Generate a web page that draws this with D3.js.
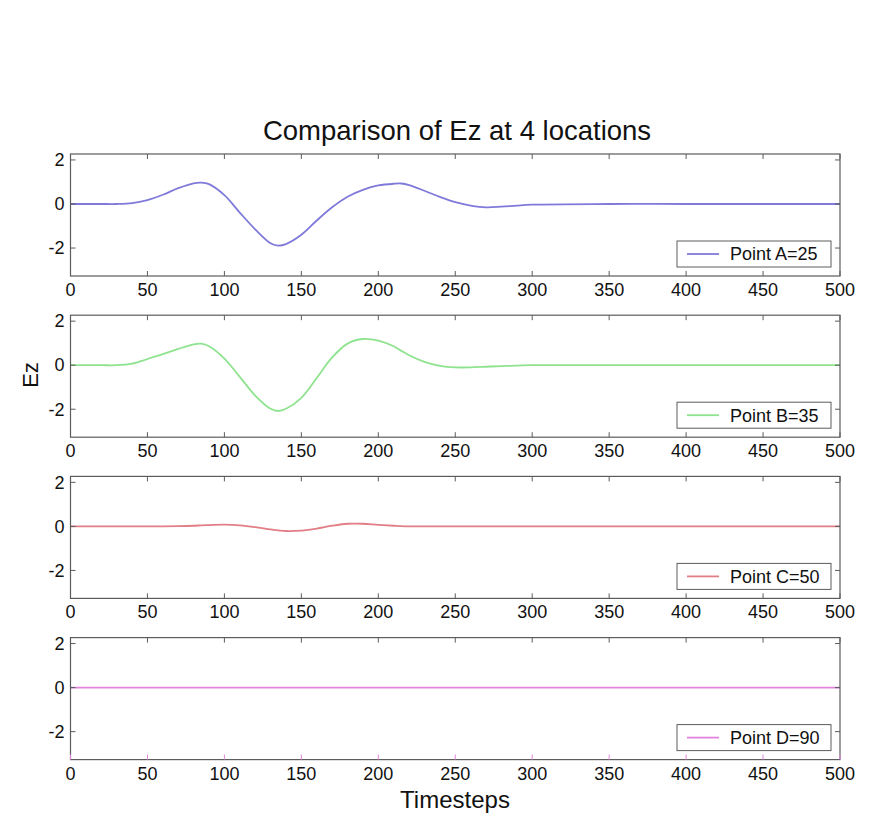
<!DOCTYPE html>
<html>
<head>
<meta charset="utf-8">
<script src="https://cdn.jsdelivr.net/npm/d3@7"></script>
<style>
  body { margin: 0; background: #fff; }
  svg text { font-family: Arial, "Liberation Sans", sans-serif; fill: #111; }
</style>
</head>
<body>
<svg id="chart" width="870" height="813"></svg>
<script>
// ---- data ----
const timesteps = [0,10,20,30,40,50,60,70,80,85,90,100,110,120,130,135,140,150,160,170,180,190,200,210,215,220,230,240,250,260,270,280,290,300,350,400,450,500];
const seriesA = [0,0,0,0,0.04,0.18,0.42,0.72,0.94,0.97,0.9,0.4,-0.39,-1.15,-1.78,-1.89,-1.82,-1.4,-0.75,-0.15,0.33,0.64,0.84,0.92,0.93,0.86,0.6,0.32,0.08,-0.07,-0.15,-0.12,-0.07,-0.03,0,0,0,0];
const seriesB = [0,0,0,0,0.07,0.28,0.5,0.74,0.95,0.98,0.86,0.3,-0.53,-1.38,-1.98,-2.08,-1.98,-1.48,-0.58,0.35,0.98,1.19,1.12,0.86,0.65,0.45,0.15,-0.03,-0.1,-0.1,-0.07,-0.04,-0.02,0,0,0,0,0];
const seriesC = [0,0,0,0,0,0,0,0.01,0.03,0.05,0.06,0.08,0.05,-0.03,-0.14,-0.18,-0.21,-0.19,-0.1,0.03,0.12,0.12,0.07,0.03,0.01,0,0,0,0,0,0,0,0,0,0,0,0,0];
const seriesD = [0,0,0,0,0,0,0,0,0,0,0,0,0,0,0,0,0,0,0,0,0,0,0,0,0,0,0,0,0,0,0,0,0,0,0,0,0,0];
const legendLabels = ["Point A=25","Point B=35","Point C=50","Point D=90"];
const colors = ["#7f7ad9","#8fe38f","#e27f86","#e383de"];
const xTicks = [0,50,100,150,200,250,300,350,400,450,500];
const yTicks = [-2,0,2];
const titleText = "Comparison of Ez at 4 locations";
const xLabel = "Timesteps";
const yLabel = "Ez";

const allSeries = [seriesA, seriesB, seriesC, seriesD];

// ---- layout ----
const svg = d3.select("#chart");
const left = 70.5, right = 840;
const panelH = 122, firstTop = 154, step = 161.2;
const x = d3.scaleLinear().domain([0, 500]).range([left, right]);
const axisColor = "#5c5c5c";
const tickLen = 5;

allSeries.forEach((vals, i) => {
  const top = firstTop + i * step;
  const bottom = top + panelH;
  const y = d3.scaleLinear().domain([-3.27, 2.27]).range([bottom, top]);
  const g = svg.append("g");

  const line = d3.line()
    .x((d, k) => x(timesteps[k]))
    .y(d => y(d))
    .curve(d3.curveCatmullRom.alpha(0.5));
  g.append("path")
    .datum(vals)
    .attr("d", line)
    .attr("fill", "none")
    .attr("stroke", colors[i])
    .attr("stroke-width", 1.8);

  g.append("rect")
    .attr("x", left).attr("y", top)
    .attr("width", right - left).attr("height", panelH)
    .attr("fill", "none").attr("stroke", axisColor).attr("stroke-width", 1.2);

  const bottomTickColor = i === 3 ? colors[3] : axisColor;
  xTicks.forEach(t => {
    g.append("line").attr("x1", x(t)).attr("x2", x(t)).attr("y1", top).attr("y2", top + tickLen)
      .attr("stroke", axisColor).attr("stroke-width", 1);
    g.append("line").attr("x1", x(t)).attr("x2", x(t)).attr("y1", bottom).attr("y2", bottom - tickLen)
      .attr("stroke", bottomTickColor).attr("stroke-width", 1);
    g.append("text").attr("x", x(t)).attr("y", bottom + 20)
      .attr("text-anchor", "middle").attr("font-size", 18).text(t);
  });

  yTicks.forEach(v => {
    g.append("line").attr("x1", left).attr("x2", left + tickLen).attr("y1", y(v)).attr("y2", y(v))
      .attr("stroke", axisColor).attr("stroke-width", 1);
    g.append("line").attr("x1", right).attr("x2", right - tickLen).attr("y1", y(v)).attr("y2", y(v))
      .attr("stroke", axisColor).attr("stroke-width", 1);
    g.append("text").attr("x", left - 6).attr("y", y(v)).attr("dy", "0.35em")
      .attr("text-anchor", "end").attr("font-size", 18).text(v);
  });

  const lw = 154, lh = 26;
  const lx = right - 9 - lw, ly = bottom - 9 - lh;
  g.append("rect").attr("x", lx).attr("y", ly).attr("width", lw).attr("height", lh)
    .attr("fill", "#fff").attr("stroke", axisColor).attr("stroke-width", 1);
  g.append("line").attr("x1", lx + 10).attr("x2", lx + 42).attr("y1", ly + lh / 2).attr("y2", ly + lh / 2)
    .attr("stroke", colors[i]).attr("stroke-width", 1.8);
  g.append("text").attr("x", lx + 53).attr("y", ly + lh / 2).attr("dy", "0.35em")
    .attr("font-size", 18).text(legendLabels[i]);
});

svg.append("text").attr("x", 457).attr("y", 140).attr("text-anchor", "middle")
  .attr("font-size", 27.5).text(titleText);
svg.append("text").attr("x", 455).attr("y", 808).attr("text-anchor", "middle")
  .attr("font-size", 24).text(xLabel);
svg.append("text").attr("transform", "translate(38,375) rotate(-90)").attr("text-anchor", "middle")
  .attr("font-size", 22).text(yLabel);
</script>
</body>
</html>
